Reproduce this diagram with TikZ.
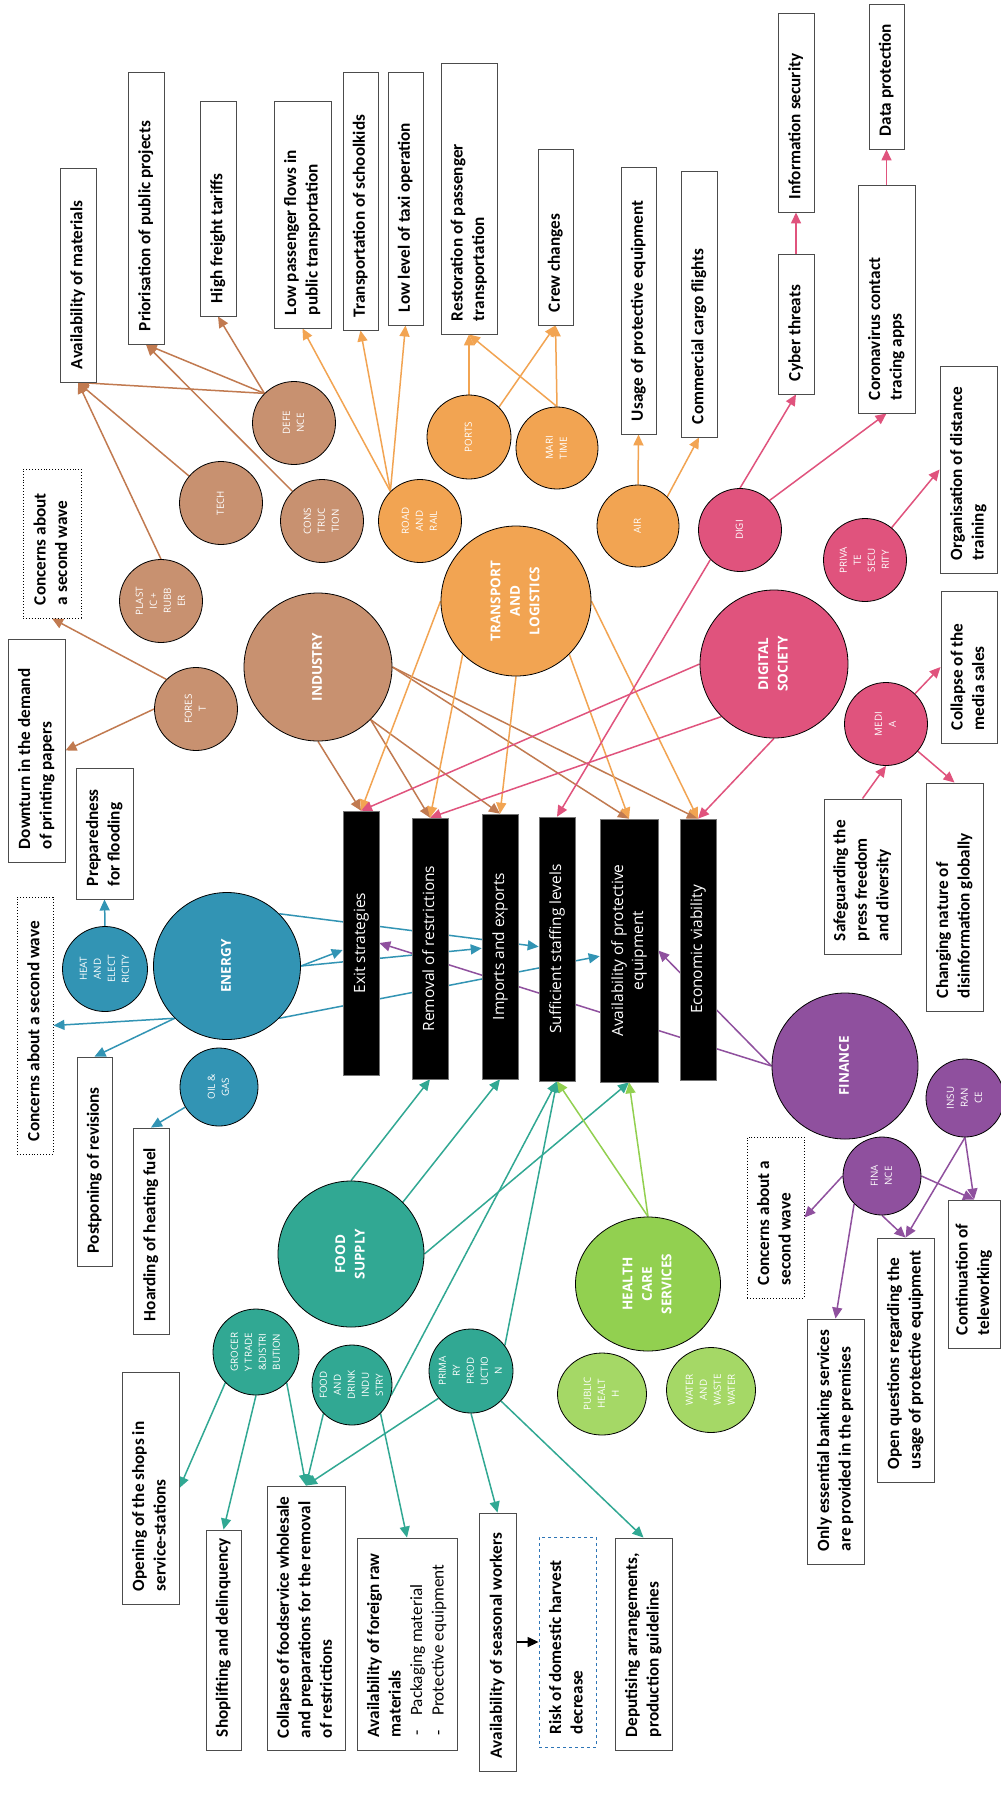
\documentclass[tikz,border=0pt]{standalone}
\usepackage{fontspec}
\setmainfont{Carlito}
\newfontfamily\osans{Open Sans}
\usepackage{graphicx}
\usetikzlibrary{arrows.meta,shapes.geometric}
\pgfdeclarelayer{background}
\pgfsetlayers{background,main}

\definecolor{indfill}{RGB}{200,145,112}
\definecolor{indline}{RGB}{193,122,80}
\definecolor{trnfill}{RGB}{242,164,82}
\definecolor{digfill}{RGB}{224,83,125}
\definecolor{enefill}{RGB}{50,148,180}
\definecolor{finfill}{RGB}{143,80,158}
\definecolor{foodfill}{RGB}{49,168,147}
\definecolor{hlthfill}{RGB}{146,208,80}
\definecolor{hlthlight}{RGB}{165,216,102}
\definecolor{riskblue}{RGB}{46,117,182}

\newcommand{\vcen}[1]{\rotatebox{90}{\begin{tabular}{@{}c@{}}#1\end{tabular}}}
\newcommand{\vtext}[2]{\rotatebox{90}{\makebox[#1][l]{\begin{tabular}{@{}l@{}}#2\end{tabular}}}}

\begin{document}
\begin{tikzpicture}[x=1pt, y=-1pt,
    sector/.style={circle, draw=black, line width=0.8pt, inner sep=0pt, text=white, font=\osans\fontsize{9.8}{14}\selectfont},
    bigsector/.style={sector, font=\osans\bfseries\fontsize{13.5}{19.5}\selectfont},
    issue/.style={rectangle, draw=black!70, line width=0.9pt, fill=white, inner sep=0pt, font=\bfseries\fontsize{17.2}{21.5}\selectfont},
    worry/.style={issue, draw=black, dotted},
    riskbox/.style={issue, draw=riskblue, dashed},
    goal/.style={rectangle, fill=black, draw=black!55, line width=0.6pt, inner sep=0pt, text=white, font=\osans\fontsize{15.5}{20}\selectfont},
    link/.style={-{Triangle[length=11pt,width=10pt]}, line width=1.5pt}]
  \useasboundingbox (0,0) rectangle (1001,1813);

  % goals
  \node[goal, minimum width=36pt, minimum height=264pt] (exit) at (361,943) {\vcen{Exit strategies}};
  \node[goal, minimum width=36pt, minimum height=261pt] (removal) at (430,948.5) {\vcen{Removal of restrictions}};
  \node[goal, minimum width=36pt, minimum height=265pt] (imports) at (500,946.5) {\vcen{Imports and exports}};
  \node[goal, minimum width=36pt, minimum height=264pt] (staffing) at (557,949) {\vcen{Sufficient staffing levels}};
  \node[goal, minimum width=58pt, minimum height=263pt] (ape) at (629,950.5) {\vcen{Availability of protective\\equipment}};
  \node[goal, minimum width=36pt, minimum height=261pt] (viability) at (698,949.5) {\vcen{Economic viability}};

  % industry
  \node[bigsector, fill=indfill, minimum size=148pt] (industry) at (318,667) {\vcen{INDUSTRY}};
  \node[sector, fill=indfill, minimum size=83pt] (defence) at (294,423) {\vcen{DEFE\\NCE}};
  \node[sector, fill=indfill, minimum size=83pt] (tech) at (221,503) {\vcen{TECH}};
  \node[sector, fill=indfill, minimum size=83pt] (construction) at (322,521) {\vcen{CONS\\TRUC\\TION}};
  \node[sector, fill=indfill, minimum size=83pt] (plastic) at (161,601) {\vcen{PLAST\\IC +\\RUBB\\ER}};
  \node[sector, fill=indfill, minimum size=83pt] (forest) at (196,709) {\vcen{FORES\\T}};

  % transport
  \node[bigsector, fill=trnfill, minimum size=150pt] (transport) at (516,601) {\vcen{TRANSPORT\\AND\\LOGISTICS}};
  \node[sector, fill=trnfill, minimum size=83pt] (roadrail) at (420,521) {\vcen{ROAD\\AND\\RAIL}};
  \node[sector, fill=trnfill, minimum size=84pt] (ports) at (469,437) {\vcen{PORTS}};
  \node[sector, fill=trnfill, minimum size=82pt] (maritime) at (557,448) {\vcen{MARI\\TIME}};
  \node[sector, fill=trnfill, minimum size=82pt] (air) at (638,526) {\vcen{AIR}};

  % digital
  \node[bigsector, fill=digfill, minimum size=148pt] (digital) at (774,664) {\vcen{DIGITAL\\SOCIETY}};
  \node[sector, fill=digfill, minimum size=83pt] (digi) at (740,530) {\vcen{DIGI}};
  \node[sector, fill=digfill, minimum size=83pt] (privsec) at (865,560) {\vcen{PRIVA\\TE\\SECU\\RITY}};
  \node[sector, fill=digfill, minimum size=83pt] (media) at (886,724) {\vcen{MEDI\\A}};

  % energy
  \node[bigsector, fill=enefill, minimum size=147pt] (energy) at (227,966) {\vcen{ENERGY}};
  \node[sector, fill=enefill, minimum size=85pt] (heat) at (105,969) {\vcen{HEAT\\AND\\ELECT\\RICITY}};
  \node[sector, fill=enefill, minimum size=78pt] (oilgas) at (219,1087) {\vcen{OIL \&\\GAS}};

  % finance
  \node[bigsector, fill=finfill, minimum size=146pt] (finance) at (845,1066) {\vcen{FINANCE}};
  \node[sector, fill=finfill, minimum size=78pt] (insurance) at (965,1098) {\vcen{INSU\\RAN\\CE}};
  \node[sector, fill=finfill, minimum size=78pt] (finsmall) at (882,1176) {\vcen{FINA\\NCE}};

  % food
  \node[bigsector, fill=foodfill, minimum size=146pt] (food) at (351,1254) {\vcen{FOOD\\SUPPLY}};
  \node[sector, fill=foodfill, minimum size=86pt] (grocery) at (256,1352) {\vcen{GROCER\\Y TRADE\\\&DISTRI\\BUTION}};
  \node[sector, fill=foodfill, minimum size=80pt] (fooddrink) at (352,1385) {\vcen{FOOD\\AND\\DRINK\\INDU\\STRY}};
  \node[sector, fill=foodfill, minimum size=84pt] (primary) at (471,1371) {\vcen{PRIMA\\RY\\PROD\\UCTIO\\N}};

  % health
  \node[bigsector, ellipse, fill=hlthfill, minimum width=145pt, minimum height=134pt] (health) at (648,1284) {\vcen{HEALTH\\CARE\\SERVICES}};
  \node[sector, ellipse, fill=hlthlight, minimum width=89pt, minimum height=82pt] (publichealth) at (602,1394) {\vcen{PUBLIC\\HEALT\\H}};
  \node[sector, ellipse, fill=hlthlight, minimum width=89pt, minimum height=85pt] (water) at (711,1390) {\vcen{WATER\\AND\\WASTE\\WATER}};

  % issues
  \node[issue, minimum width=36pt, minimum height=214pt] (avmat) at (78,275) {\vtext{188pt}{Availability of materials}};
  \node[issue, minimum width=36pt, minimum height=272pt] (prior) at (146,208) {\vtext{246pt}{Priorisation of public projects}};
  \node[issue, minimum width=36pt, minimum height=215pt] (freight) at (218,208.5) {\vtext{189pt}{High freight tariffs}};
  \node[issue, minimum width=57pt, minimum height=227pt] (lowpass) at (302.5,214.5) {\vtext{201pt}{Low passenger flows in\\public transportation}};
  \node[issue, minimum width=35pt, minimum height=258pt] (school) at (360.5,201) {\vtext{232pt}{Transportation of schoolkids}};
  \node[issue, minimum width=35pt, minimum height=253pt] (taxi) at (405.5,198.5) {\vtext{227pt}{Low level of taxi operation}};
  \node[issue, minimum width=56pt, minimum height=271pt] (restor) at (469,198.5) {\vtext{245pt}{Restoration of passenger\\transportation}};
  \node[issue, minimum width=35pt, minimum height=176pt] (crew) at (555.5,237) {\vtext{150pt}{Crew changes}};
  \node[issue, minimum width=35pt, minimum height=267pt] (usage) at (638.5,300.5) {\vtext{241pt}{Usage of protective equipment}};
  \node[issue, minimum width=36pt, minimum height=266pt] (cargo) at (699,304) {\vtext{240pt}{Commercial cargo flights}};
  \node[issue, minimum width=36pt, minimum height=199pt] (infosec) at (796,112.5) {\vtext{173pt}{Information security}};
  \node[issue, minimum width=35pt, minimum height=145pt] (dataprot) at (886.5,76.5) {\vtext{119pt}{Data protection}};
  \node[issue, minimum width=36pt, minimum height=140pt] (cyber) at (796,324) {\vtext{114pt}{Cyber threats}};
  \node[issue, minimum width=57pt, minimum height=228pt] (tracing) at (886.5,299) {\vtext{202pt}{Coronavirus contact\\tracing apps}};
  \node[issue, minimum width=57pt, minimum height=207pt] (distance) at (968.5,469.5) {\vtext{181pt}{Organisation of distance\\training}};
  \node[worry, minimum width=58pt, minimum height=149pt] (concernA) at (52,543.5) {\vtext{123pt}{Concerns about\\a second wave}};
  \node[issue, minimum width=57pt, minimum height=223pt] (downturn) at (36.5,750.5) {\vtext{197pt}{Downturn in the demand\\of printing papers}};
  \node[issue, minimum width=57pt, minimum height=131pt] (flooding) at (104.5,833.5) {\vtext{105pt}{Preparedness\\for flooding}};
  \node[issue, minimum width=56pt, minimum height=152pt] (mediasales) at (969,667) {\vtext{126pt}{Collapse of the\\media sales}};
  \node[issue, minimum width=77pt, minimum height=155pt] (press) at (862.5,876.5) {\vtext{129pt}{Safeguarding the\\press freedom\\and diversity}};
  \node[issue, minimum width=57pt, minimum height=228pt] (disinfo) at (954.5,897) {\vtext{202pt}{Changing nature of\\disinformation globally}};
  \node[worry, minimum width=36pt, minimum height=257pt] (concernB) at (35,1025.5) {\vtext{231pt}{Concerns about a second wave}};
  \node[issue, minimum width=35pt, minimum height=209pt] (postpone) at (94.5,1161.5) {\vtext{183pt}{Postponing of revisions}};
  \node[issue, minimum width=36pt, minimum height=206pt] (hoarding) at (151,1231) {\vtext{180pt}{Hoarding of heating fuel}};
  \node[worry, minimum width=57pt, minimum height=161pt] (concernC) at (775.5,1217.5) {\vtext{135pt}{Concerns about a\\second wave}};
  \node[issue, minimum width=57pt, minimum height=244pt] (openq) at (905.5,1360) {\vtext{218pt}{Open questions regarding the\\usage of protective equipment}};
  \node[issue, minimum width=52pt, minimum height=148pt] (telework) at (974,1274) {\vtext{122pt}{Continuation of\\teleworking}};
  \node[issue, minimum width=57pt, minimum height=245pt] (banking) at (835.5,1441.5) {\vtext{219pt}{Only essential banking services\\are provided in the premises}};
  \node[issue, minimum width=57pt, minimum height=232pt] (shops) at (150.5,1488) {\vtext{206pt}{Opening of the shops in\\service-stations}};
  \node[issue, minimum width=35pt, minimum height=220pt] (shoplift) at (223.5,1640) {\vtext{194pt}{Shoplifting and delinquency}};
  \node[issue, minimum width=78pt, minimum height=264pt] (collapse) at (306,1618) {\vtext{240pt}{Collapse of foodservice wholesale\\and preparations for the removal\\of restrictions}};
  \node[issue, minimum width=100pt, minimum height=212pt] (rawmat) at (407,1644) {\vtext{186pt}{Availability of foreign raw\\materials\\\mdseries\hspace*{2pt}-\hspace{14pt}Packaging material\\\mdseries\hspace*{2pt}-\hspace{14pt}Protective equipment}};
  \node[issue, minimum width=37pt, minimum height=258pt] (seasonal) at (497.5,1642) {\vtext{232pt}{Availability of seasonal workers}};
  \node[riskbox, minimum width=57pt, minimum height=210pt] (harvest) at (567.5,1642) {\vtext{184pt}{Risk of domestic harvest\\decrease}};
  \node[issue, minimum width=57pt, minimum height=212pt] (deputy) at (643.5,1644) {\vtext{186pt}{Deputising arrangements,\\production guidelines}};

  \begin{pgfonlayer}{background}
    \fill[white] (0,0) rectangle (1001,1813);
    % industry links
    \begin{scope}[indline]
      \draw[link] (defence.135) -- (avmat.south);
      \draw[link] (tech) -- (avmat.south);
      \draw[link] (plastic.north) -- (avmat.south);
      \draw[link] (defence.135) -- (prior.south);
      \draw[link] (construction) -- (prior.south);
      \draw[link] (defence.135) -- (freight.south);
      \draw[link] (forest.135) -- (concernA.south);
      \draw[link] (forest.west) -- (downturn.east);
      \draw[link] (industry.south) -- (exit.north);
      \draw[link] (industry.-45) -- (removal.north);
      \draw[link] (industry.-45) -- (imports.north);
      \draw[link] (industry.east) -- (ape.north);
      \draw[link] (industry.east) -- (viability.north);
    \end{scope}
    % transport links
    \begin{scope}[trnfill]
      \draw[link] (roadrail.135) -- (lowpass.south);
      \draw[link] (roadrail.135) -- (school.south);
      \draw[link] (roadrail.135) -- (taxi.south);
      \draw[link] (ports.north) -- (restor.south);
      \draw[link] (ports.45) -- (crew.south);
      \draw[link] (maritime.north) -- (restor.south);
      \draw[link] (maritime.north) -- (crew.south);
      \draw[link] (air.north) -- (usage.south);
      \draw[link] (air.45) -- (cargo.south);
      \draw[link] (transport.west) -- (exit.north);
      \draw[link] (transport.225) -- (removal.north);
      \draw[link] (transport.south) -- (imports.north);
      \draw[link] (transport.-45) -- (ape.north);
      \draw[link] (transport.east) -- (viability.north);
    \end{scope}
    % digital links
    \begin{scope}[digfill]
      \draw[link] (digi.north) -- (cyber.south);
      \draw[link] (digi.45) -- (tracing.south);
      \draw[link] (cyber.north) -- (infosec.south);
      \draw[link] (tracing.north) -- (dataprot.south);
      \draw[link] (privsec) -- (distance.west);
      \draw[link] (media) -- (mediasales.west);
      \draw[link] (media) -- (disinfo.north);
      \draw[link] (press.north) -- (media.south);
      \draw[link] (digital.west) -- (exit.north);
      \draw[link] (digital.225) -- (removal.north);
      \draw[link] (digital.south) -- (viability.north);
      \draw[link] (digi.225) -- (staffing.north);
    \end{scope}
    % energy links
    \begin{scope}[enefill]
      \draw[link] (heat.north) -- (flooding.south);
      \draw[link] (energy.225) -- (concernB.east);
      \draw[link] (energy.225) -- (postpone.north);
      \draw[link] (oilgas) -- (hoarding.north);
      \draw[link] (energy.east) -- (exit);
      \draw[link] (energy.east) -- (imports);
      \draw[link] (energy.45) -- (staffing);
      \draw[link] (energy.-45) -- (ape);
    \end{scope}
    % finance links
    \begin{scope}[finfill]
      \draw[link] (finance.west) -- (exit.east);
      \draw[link] (finance.west) -- (ape.east);
      \draw[link] (finsmall.west) -- (concernC.east);
      \draw[link] (finsmall.225) -- (banking.north);
      \draw[link] (finsmall.south) -- (openq.north);
      \draw[link] (finsmall.east) -- (telework.north);
      \draw[link] (insurance.south) -- (openq.north);
      \draw[link] (insurance.south) -- (telework.north);
    \end{scope}
    % food links
    \begin{scope}[foodfill]
      \draw[link] (food.north) -- (removal.south);
      \draw[link] (food.45) -- (imports.south);
      \draw[link] (food.east) -- (ape.south);
      \draw[link] (fooddrink.-15) -- (staffing.south);
      \draw[link] (primary.37) -- (staffing.south);
      \draw[link] (grocery.225) -- (shops.east);
      \draw[link] (grocery.south) -- (shoplift.north);
      \draw[link] (grocery.-45) -- (collapse.north);
      \draw[link] (fooddrink.225) -- (collapse.north);
      \draw[link] (primary.220) -- (collapse.north);
      \draw[link] (fooddrink.-45) -- (rawmat.north);
      \draw[link] (primary.south) -- (seasonal.north);
      \draw[link] (primary.-45) -- (deputy.north);
    \end{scope}
    % health links
    \begin{scope}[hlthfill]
      \draw[link] (health.north) -- (staffing.south);
      \draw[link] (health.north) -- (ape.south);
    \end{scope}
    \draw[link, black] (seasonal.east) -- (harvest.west);
  \end{pgfonlayer}
\end{tikzpicture}
\end{document}
